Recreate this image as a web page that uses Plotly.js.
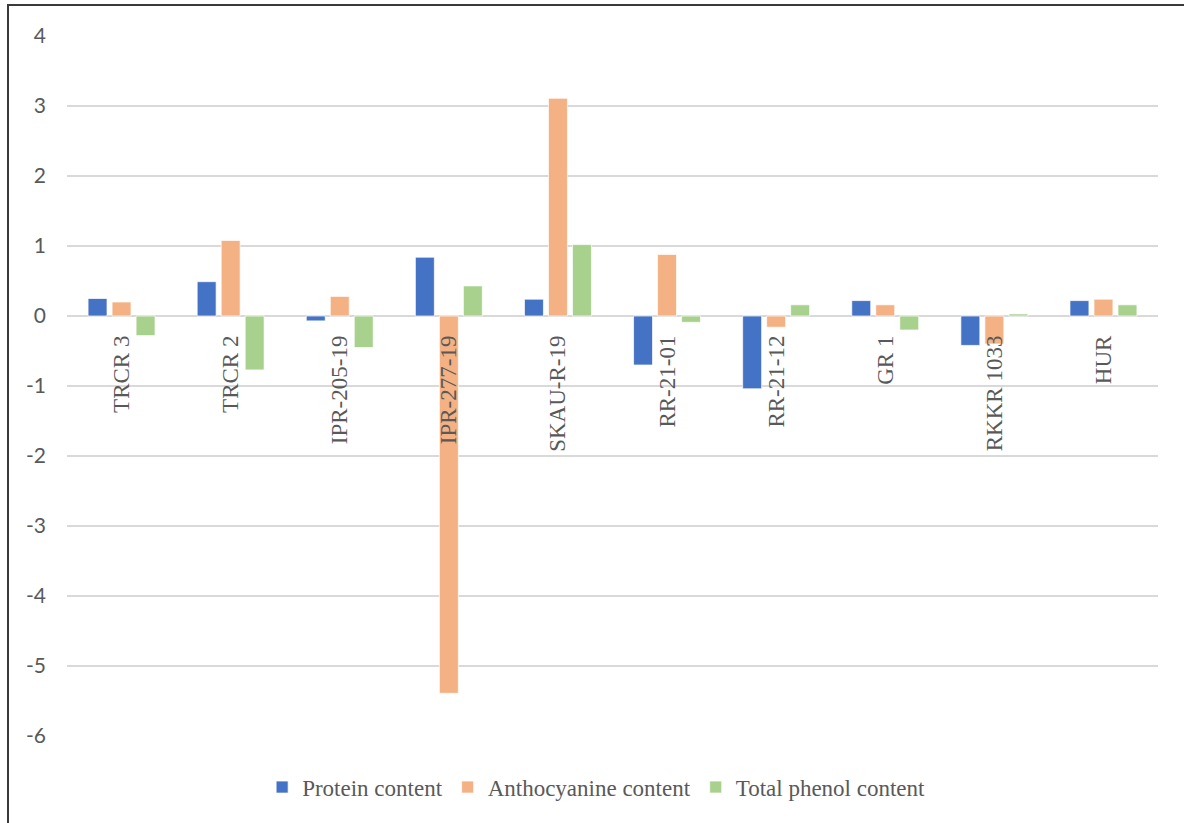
<!DOCTYPE html>
<html>
<head>
<meta charset="utf-8">
<script src="https://cdn.plot.ly/plotly-3.0.1.min.js"></script>
<style>
  html, body { margin: 0; padding: 0; background: #fff; }
  #wrap { position: relative; width: 1184px; height: 823px; }
  #chart { width: 1184px; height: 823px; }
  #frame { position: absolute; left: 7px; top: 4px; right: 0; bottom: 0;
           border-left: 2px solid #3a3a3a; border-top: 2px solid #3a3a3a; pointer-events: none; }
</style>
</head>
<body>
<div id="wrap">
  <div id="chart"></div>
  <div id="frame"></div>
</div>
<script>
const categories = ["TRCR 3", "TRCR 2", "IPR-205-19", "IPR-277-19", "SKAU-R-19",
                    "RR-21-01", "RR-21-12", "GR 1", "RKKR 1033", "HUR"];
const proteinContent     = [0.25, 0.49, -0.07, 0.84, 0.24, -0.70, -1.04, 0.22, -0.42, 0.22];
const anthocyanineContent = [0.20, 1.08, 0.28, -5.39, 3.11, 0.88, -0.16, 0.16, -0.40, 0.24];
const totalPhenolContent = [-0.28, -0.77, -0.45, 0.43, 1.02, -0.09, 0.16, -0.20, 0.03, 0.16];
const seriesNames = ["Protein content", "Anthocyanine content", "Total phenol content"];
const yTickValues = [4, 3, 2, 1, 0, -1, -2, -3, -4, -5, -6];
const yRange = [-6, 4];

const colors = ["#4472C4", "#F4B183", "#A9D18E"];
const seriesValues = [proteinContent, anthocyanineContent, totalPhenolContent];

const traces = seriesValues.map((vals, i) => ({
  type: "bar",
  name: seriesNames[i],
  x: categories,
  y: vals,
  marker: { color: colors[i], line: { color: "rgba(255,255,255,0.7)", width: 1 } },
  hoverinfo: "x+y+name"
}));

const serif = "'Liberation Serif', 'Times New Roman', serif";
const layout = {
  width: 1184, height: 823,
  margin: { l: 67, r: 26, t: 36, b: 87 },
  paper_bgcolor: "#ffffff",
  plot_bgcolor: "#ffffff",
  barmode: "group",
  bargap: 0.34,
  bargroupgap: 0.21,
  showlegend: true,
  legend: {
    orientation: "h",
    x: 0.485, xanchor: "center",
    y: -0.073, yanchor: "middle",
    font: { family: serif, size: 23, color: "#595959" },
    itemwidth: 30,
    traceorder: "normal"
  },
  xaxis: {
    type: "category",
    anchor: "free",
    position: (0 - yRange[0]) / (yRange[1] - yRange[0]),
    tickangle: -90,
    ticks: "",
    showgrid: false,
    showline: false,
    zeroline: false,
    ticklabelstandoff: 14,
    tickfont: { family: serif, size: 23, color: "#595959" }
  },
  yaxis: {
    range: yRange,
    tickvals: yTickValues,
    ticktext: yTickValues.map(String),
    showgrid: true,
    gridcolor: "#D9D9D9",
    gridwidth: 1.5,
    zeroline: true,
    zerolinecolor: "#D9D9D9",
    zerolinewidth: 1.5,
    showline: false,
    ticks: "",
    ticklabelstandoff: 20,
    tickfont: { family: "Lato, 'Liberation Sans', sans-serif", size: 21, color: "#595959" }
  }
};

Plotly.newPlot("chart", traces, layout, { displayModeBar: false, staticPlot: true });
</script>
</body>
</html>
